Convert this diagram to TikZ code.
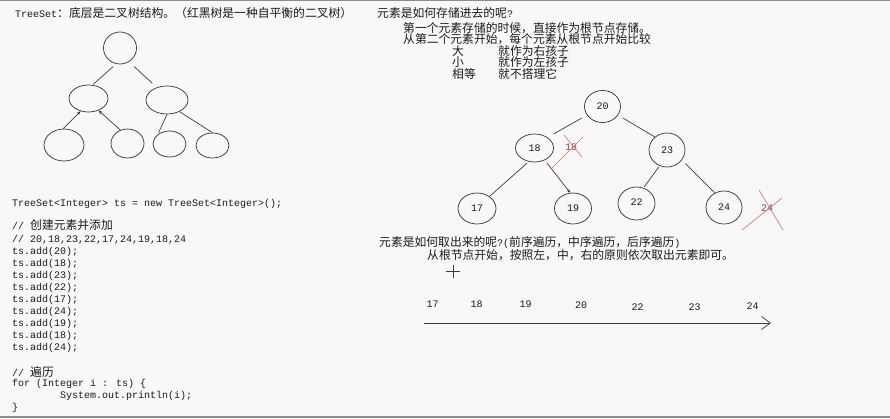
\documentclass[tikz,border=0pt]{standalone}
\usepackage{fontspec}
\setmainfont{Liberation Mono}
\newfontfamily\cjk{Noto Sans CJK SC}
\usetikzlibrary{arrows.meta,shapes.geometric}
\definecolor{ink}{HTML}{1A1A1A}
\definecolor{bgc}{HTML}{F8F8F8}
\definecolor{framec}{HTML}{8C8C8C}
\definecolor{xred}{RGB}{215,110,110}
\definecolor{tred}{RGB}{150,60,60}
\newcommand\zh[1]{{\cjk\fontsize{11.8}{12}\selectfont #1}}
\begin{document}
\begin{tikzpicture}[x=1pt,y=-1pt,
  txt/.style={anchor=west, inner sep=0pt, text=ink, font=\fontsize{10}{12}\selectfont},
  num/.style={inner sep=0pt, text=ink, font=\fontsize{10}{12}\selectfont},
  el/.style={ellipse, draw=ink!90, line width=0.7pt, inner sep=0pt, text=ink, font=\fontsize{10}{12}\selectfont},
  edge/.style={draw=ink!85, line width=0.7pt},
  cross/.style={draw=xred, line width=0.6pt}]
% background and frame
\fill[bgc] (0,0) rectangle (890,419);
\fill[framec] (0,0) rectangle (890,1.5);
\fill[framec] (0,415.5) rectangle (890,417.5);
\useasboundingbox (0,0) rectangle (890,419);

% ---------- left: title ----------
\node[txt] (t1) at (15,13) {TreeSet\zh{：底层是二叉树结构。（红黑树是一种自平衡的二叉树）}};

% left tree
\node[el, minimum width=33, minimum height=32] (A) at (120,48) {};
\node[el, minimum width=39, minimum height=27] (B) at (88.5,98.5) {};
\node[el, minimum width=42, minimum height=28] (C) at (167,100) {};
\node[el, minimum width=40, minimum height=32] (D) at (64,145) {};
\node[el, minimum width=33, minimum height=29] (E) at (127.5,143.5) {};
\node[el, minimum width=33, minimum height=26] (F) at (169.5,144) {};
\node[el, minimum width=33, minimum height=25] (G) at (212.5,145.5) {};
\draw[edge, shorten <=4pt, shorten >=1pt] (A.256) -- (B.73);
\draw[edge, shorten <=7pt, shorten >=6pt] (A.303) -- (C.129);
\draw[edge, -{Stealth[length=4pt,width=3pt]}] (D.93) -- (B.238);
\draw[edge, -{Stealth[length=4pt,width=3pt]}] (E.118) -- (B.310);
\draw[edge, shorten >=2pt] (C.270) -- (F.141);
\draw[edge] (C.317) -- (G.90);

% ---------- left: code ----------
\node[txt] (c0) at (12,204) {TreeSet<Integer> ts = new TreeSet<Integer>();};
\node[txt] (c1) at (12,225) {// \zh{创建元素并添加}};
\node[txt] (c2) at (12,240) {// 20,18,23,22,17,24,19,18,24};
\node[txt] (c3) at (12,252) {ts.add(20);};
\node[txt] (c4) at (12,264) {ts.add(18);};
\node[txt] (c5) at (12,276) {ts.add(23);};
\node[txt] (c6) at (12,288) {ts.add(22);};
\node[txt] (c7) at (12,300) {ts.add(17);};
\node[txt] (c8) at (12,312) {ts.add(24);};
\node[txt] (c9) at (12,324) {ts.add(19);};
\node[txt] (c10) at (12,336) {ts.add(18);};
\node[txt] (c11) at (12,348) {ts.add(24);};
\node[txt] (c12) at (12,372) {// \zh{遍历}};
\node[txt] (c13) at (12,384) {for (Integer i : ts) \{};
\node[txt] (c14) at (60,396) {System.out.println(i);};
\node[txt] (c15) at (12,408) {\}};

% ---------- right: storing ----------
\node[txt] (h1) at (377,13) {\zh{元素是如何存储进去的呢}?};
\node[txt] (h2) at (403,28) {\zh{第一个元素存储的时候，直接作为根节点存储。}};
\node[txt] (h3) at (403,39) {\zh{从第二个元素开始，每个元素从根节点开始比较}};
\node[txt] (h4a) at (452,51) {\zh{大}};
\node[txt] (h4b) at (498,51) {\zh{就作为右孩子}};
\node[txt] (h5a) at (452,62) {\zh{小}};
\node[txt] (h5b) at (498,62) {\zh{就作为左孩子}};
\node[txt] (h6a) at (452,74) {\zh{相等}};
\node[txt] (h6b) at (498,74) {\zh{就不搭理它}};

% right tree
\node[el, minimum width=36, minimum height=32] (n20) at (602.5,106.5) {20};
\node[el, minimum width=38, minimum height=28] (n18) at (534.5,148) {18};
\node[el, minimum width=36, minimum height=34] (n23) at (667,150) {23};
\node[el, minimum width=38, minimum height=31] (n17) at (477,208.5) {17};
\node[el, minimum width=37, minimum height=31] (n19) at (573,208.5) {19};
\node[el, minimum width=37, minimum height=33] (n22) at (636.5,203.5) {\raisebox{3pt}{22}};
\node[el, minimum width=36, minimum height=33] (n24) at (724,207.5) {24};
\draw[edge, shorten <=6pt, shorten >=7pt] (n20.209) -- (n18.39);
\draw[edge, shorten <=6pt] (n20.331) -- (n23.133);
\draw[edge, shorten <=2pt] (n18.247) -- (n17.44);
\draw[edge, shorten <=4pt, -{Stealth[length=4pt,width=3pt]}] (n18.310) -- (n19.100);
\draw[edge, shorten <=1.5pt, shorten >=1pt] (n23.245) -- (n22.66);
\draw[edge, shorten <=5pt] (n23.326) -- (n24.122);

% rejected duplicates
\node[num, text=tred] (r18) at (571,147) {18};
\draw[cross] (564,135) -- (582,157);
\draw[cross] (583,137) -- (552,168);
\node[num, text=tred] (r24) at (767,208) {24};
\draw[cross] (759,190) -- (783,230);
\draw[cross] (782,198) -- (742,230);

% ---------- right: reading ----------
\node[txt] (g1) at (379,243) {\zh{元素是如何取出来的呢}?(\zh{前序遍历，中序遍历，后序遍历})};
\node[txt] (g2) at (427,255) {\zh{从根节点开始，按照左，中，右的原则依次取出元素即可。}};
\draw[ink!85, line width=0.6pt] (446,271) -- (460,271) (453,265) -- (453,278);

\node[num] (o17) at (432.5,304.5) {17};
\node[num] (o18) at (476.5,304.5) {18};
\node[num] (o19) at (525.5,304.5) {19};
\node[num] (o20) at (581,305) {20};
\node[num] (o22) at (637.5,307) {22};
\node[num] (o23) at (694.5,307) {23};
\node[num] (o24) at (752.5,306) {24};
\coordinate (arrS) at (424,323);
\coordinate (arrE) at (771,323);
\draw[edge, -{Straight Barb[length=9pt,width=13pt]}] (arrS) -- (arrE);
\end{tikzpicture}
\end{document}
